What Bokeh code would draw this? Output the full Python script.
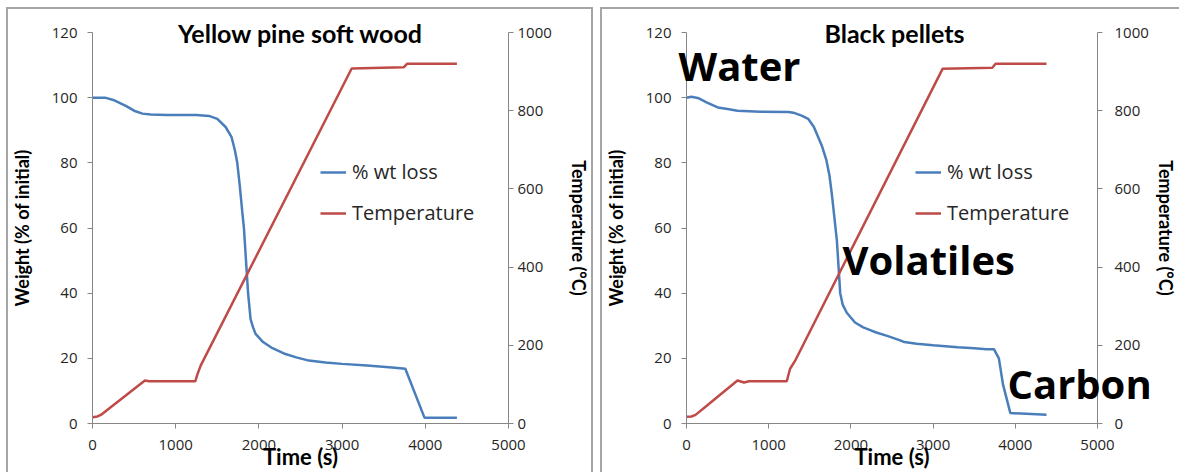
from bokeh.plotting import figure
from bokeh.models import (Range1d, LinearAxis, Legend, LegendItem, Label, FixedTicker,
                          GridBox, Column)
from bokeh.embed import file_html
from bokeh.resources import INLINE

# ---- Yellow pine soft wood ----
pine_wt_time = [0, 150, 250, 400, 500, 600, 700, 900, 1250, 1400, 1500, 1600, 1670,
                1710, 1740, 1770, 1800, 1820, 1845, 1870, 1900, 1930, 1960, 2050,
                2150, 2300, 2450, 2600, 2800, 3000, 3300, 3600, 3760, 3990, 4380]
pine_wt = [100, 100, 99.3, 97.5, 96, 95.1, 94.8, 94.7, 94.7, 94.4, 93.5, 91, 88,
           84, 80, 73, 65, 60, 50, 40, 32, 29.5, 27.5, 25, 23.3, 21.5, 20.3, 19.3,
           18.7, 18.3, 17.8, 17.2, 16.8, 1.8, 1.8]
pine_temp_time = [0, 60, 100, 630, 680, 1235, 1260, 1300, 3115, 3740, 3780, 4380]
pine_temp = [16, 18, 22, 110, 108, 108, 125, 148, 908, 911, 920, 920]

# ---- Black pellets ----
pellet_wt_time = [0, 60, 150, 250, 380, 500, 620, 900, 1240, 1300, 1400, 1480, 1550,
                  1600, 1650, 1700, 1740, 1770, 1800, 1830, 1850, 1870, 1900, 1950,
                  2050, 2150, 2220, 2300, 2450, 2600, 2650, 2800, 3000, 3300, 3500,
                  3650, 3740, 3800, 3850, 3940, 4380]
pellet_wt = [100, 100.3, 99.8, 98.5, 97, 96.5, 96, 95.7, 95.6, 95.4, 94.5, 93.5, 91,
             88, 85, 81, 76, 70, 63, 56, 48, 40, 36.5, 34, 31, 29.5, 28.8, 28, 26.8,
             25.5, 25, 24.5, 24, 23.4, 23.1, 22.8, 22.8, 20, 12, 3.2, 2.7]
pellet_temp_time = [0, 60, 110, 250, 620, 700, 760, 1220, 1260, 1320, 3115, 3720,
                    3760, 4380]
pellet_temp = [17, 18, 22, 46, 110, 105, 108, 108, 140, 160, 907, 910, 920, 920]

weight_ticks = [0, 20, 40, 60, 80, 100, 120]
temp_ticks = [0, 200, 400, 600, 800, 1000]
time_ticks = [0, 1000, 2000, 3000, 4000, 5000]

stage_labels = ["Water", "Volatiles", "Carbon"]
stage_time = [-96, 1875, 3858]
stage_weight = [109.9, 50.4, 12.7]

X_MAX, W_MAX, T_MAX = 5000, 120, 1000

BLUE = "#4a7ebb"
RED = "#be4b48"
AXIS = "#868686"
FRAME = "#a5a5a5"
TICK_FONT = "Open Sans"
LABEL_FONT = "Lato"
HEIGHT = 472
BORDER_TOP, BORDER_BOTTOM = 32, 48


def bar(x, y, w, h):
    return f"linear-gradient({FRAME}, {FRAME}) {x} {y} / {w} {h} no-repeat"


def style_axis(ax, ticks):
    ax.ticker = FixedTicker(ticks=ticks)
    ax.axis_line_color = AXIS
    ax.major_tick_line_color = AXIS
    ax.major_tick_out = 5
    ax.major_tick_in = 0
    ax.minor_tick_line_color = None
    ax.major_label_text_font = TICK_FONT
    ax.major_label_text_font_size = "15px"
    ax.major_label_text_color = "#262626"
    ax.axis_label_text_font = LABEL_FONT
    ax.axis_label_text_font_style = "bold"
    ax.axis_label_text_font_size = "18px"
    ax.axis_label_text_color = "#000000"


def panel(width, left, right, wt_t, wt, tp_t, tp, box_css, legend_x,
          temp_standoff, temp_label_standoff):
    p = figure(width=width, height=HEIGHT, output_backend="svg", toolbar_location=None,
               x_range=Range1d(0, X_MAX), y_range=Range1d(0, W_MAX),
               min_border_left=left, min_border_right=right,
               min_border_top=BORDER_TOP, min_border_bottom=BORDER_BOTTOM,
               styles={"background": box_css})
    p.extra_y_ranges = {"temp": Range1d(0, T_MAX)}
    p.grid.visible = False
    p.outline_line_color = None
    p.background_fill_color = "white"
    p.border_fill_color = None

    xa = p.xaxis[0]
    style_axis(xa, time_ticks)
    xa.axis_label = "Time (s)"
    xa.axis_label_text_font_size = "22px"
    xa.major_label_standoff = 11
    xa.axis_label_standoff = -10

    ya = p.yaxis[0]
    style_axis(ya, weight_ticks)
    ya.axis_label = "Weight (% of initial)"
    ya.major_label_standoff = 10
    ya.axis_label_standoff = 16

    tax = LinearAxis(y_range_name="temp", axis_label="Temperature (\u00b0C)")
    style_axis(tax, temp_ticks)
    tax.major_label_standoff = temp_standoff
    tax.axis_label_standoff = temp_label_standoff
    p.add_layout(tax, "right")

    r_wt = p.line(wt_t, wt, line_color=BLUE, line_width=2.5)
    r_tp = p.line(tp_t, tp, line_color=RED, line_width=2.5, y_range_name="temp")

    leg = Legend(items=[LegendItem(label="% wt loss", renderers=[r_wt]),
                        LegendItem(label="Temperature", renderers=[r_tp])],
                 location=(legend_x, 197))
    leg.background_fill_alpha = 0
    leg.border_line_alpha = 0
    leg.padding = 0
    leg.margin = 0
    leg.glyph_width = 26
    leg.glyph_height = 20
    leg.label_height = 20
    leg.spacing = 14
    leg.label_standoff = 6
    leg.label_text_font = TICK_FONT
    leg.label_text_font_size = "20px"
    leg.label_text_color = "#262626"
    p.add_layout(leg, "center")
    return p


def text_layer(width, left, right):
    """Transparent full-canvas plot sharing the panel's data scale, for free text."""
    fw = width - left - right
    fh = HEIGHT - BORDER_TOP - BORDER_BOTTOM
    xs = X_MAX / fw
    ys = W_MAX / fh
    o = figure(width=width, height=HEIGHT, output_backend="svg", toolbar_location=None,
               x_range=Range1d(-left * xs, (width - left) * xs),
               y_range=Range1d(-BORDER_BOTTOM * ys, (HEIGHT - BORDER_BOTTOM) * ys),
               min_border=0, min_border_left=0, min_border_right=0,
               min_border_top=0, min_border_bottom=0,
               x_axis_location=None, y_axis_location=None)
    o.grid.visible = False
    o.outline_line_color = None
    o.background_fill_color = None
    o.border_fill_color = None
    return o


def title(o, text):
    o.add_layout(Label(x=X_MAX / 2, y=W_MAX, text=text, text_align="center",
                       text_baseline="middle", text_font=LABEL_FONT,
                       text_font_style="bold", text_font_size="25px",
                       text_color="#000000"))


left_box = ", ".join([bar("6px", "7px", "2px", "100%"),
                      bar("591px", "7px", "2px", "100%"),
                      bar("6px", "7px", "587px", "2px"), "#ffffff"])
right_box = ", ".join([bar("4px", "7px", "2px", "100%"),
                       bar("4px", "7px", "100%", "2px"), "#ffffff"])

p1 = panel(596, 92, 88, pine_wt_time, pine_wt, pine_temp_time, pine_temp,
           left_box, 228, 4, 13)
p2 = panel(583, 90, 77, pellet_wt_time, pellet_wt, pellet_temp_time, pellet_temp,
           right_box, 229, 12, 3)

o1 = text_layer(596, 92, 88)
o2 = text_layer(583, 90, 77)
title(o1, "Yellow pine soft wood")
title(o2, "Black pellets")

# Stage annotations on the pellet curve
for txt, tx, wy in zip(stage_labels, stage_time, stage_weight):
    o2.add_layout(Label(x=tx, y=wy, text=txt, text_align="left",
                        text_baseline="middle", text_font="Open Sans",
                        text_font_style="bold", text_font_size="40px",
                        text_color="#000000"))

# text layers sit in the same grid cells as their panels, drawn on top
layout = GridBox(children=[(p1, 0, 0), (Column(children=[o1]), 0, 0),
                           (p2, 0, 1), (Column(children=[o2]), 0, 1)])
open("out.html", "w").write(file_html(layout, INLINE))
